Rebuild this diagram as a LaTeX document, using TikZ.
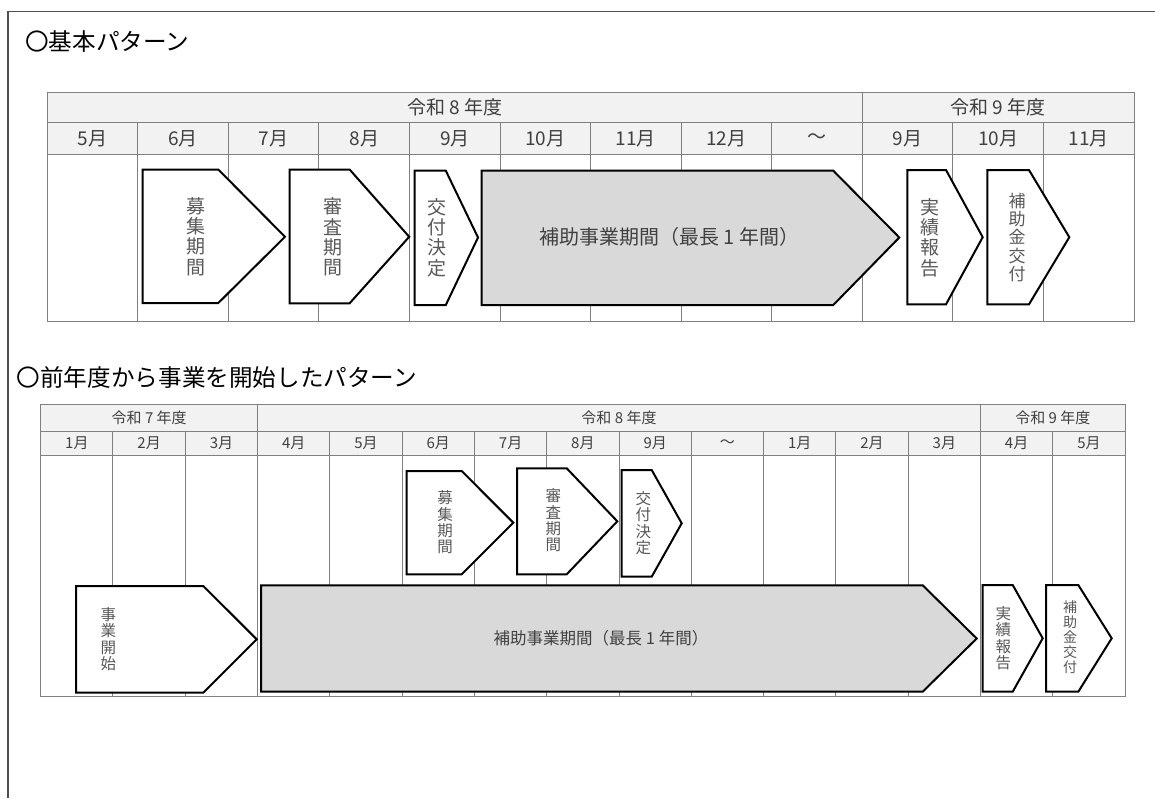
\documentclass[tikz,border=0pt]{standalone}
\usepackage{fontspec}
\setmainfont{Noto Sans CJK JP}
\usepackage{xcolor}
\definecolor{gridgray}{HTML}{808080}
\definecolor{headfill}{HTML}{F2F2F2}
\definecolor{bandfill}{HTML}{D9D9D9}
\definecolor{inkgray}{HTML}{404040}
\definecolor{lblgray}{HTML}{595959}
\definecolor{framegray}{HTML}{505050}
\usepackage{tikz}
\usetikzlibrary{positioning}
\tikzset{
  cell/.style={draw=gridgray, line width=1pt},
  phase/.style={draw=black, line width=2pt, line join=miter, fill=white},
  mainphase/.style={phase, fill=bandfill},
  title/.style={anchor=west, inner sep=0pt, font=\fontsize{23.6}{26}\selectfont},
  headA/.style={text=inkgray, inner sep=0pt, font=\fontsize{19}{22}\selectfont},
  headB/.style={text=inkgray, inner sep=0pt, font=\fontsize{15}{18}\selectfont},
  tateA/.style={text=lblgray, inner sep=0pt, align=center, font=\fontsize{19}{20.4}\selectfont},
  tateAs/.style={text=lblgray, inner sep=0pt, align=center, font=\fontsize{17}{18.3}\selectfont},
  tateB/.style={text=lblgray, inner sep=0pt, align=center, font=\fontsize{15.5}{16.3}\selectfont},
  tateBs/.style={text=lblgray, inner sep=0pt, align=center, font=\fontsize{14}{15}\selectfont},
}

\begin{document}
\begin{tikzpicture}[x=1pt, y=-1pt]

\useasboundingbox (0,0) rectangle (1155,798);
\draw[framegray, line width=1.5pt] (8,798) -- (8,11.7) -- (1155,11.7);

% basic pattern
\node[title] (titleA) at (25,41.7) {〇基本パターン};

\fill[headfill] (47.3,92.3) rectangle (1134,154);
\draw[cell] (47.3,92.3) rectangle (1134,321.7);
\draw[cell] (47.3,122.7) -- (1134,122.7);
\draw[cell] (47.3,154) -- (1134,154);
\draw[cell] (862.3,92.3) -- (862.3,122.7);
\foreach \i in {1,...,11}
  \draw[cell] ({47.3+\i*90.55},122.7) -- ({47.3+\i*90.55},321.7);

\node[headA] (yearA8) at (454.8,107.5) {令和 8 年度};
\node[headA] (yearA9) at (998.2,107.5) {令和 9 年度};
\foreach \m [count=\i from 0] in {5月,6月,7月,8月,9月,10月,11月,12月,～,9月,10月,11月}
  \node[headA] (monthA\i) at ({47.3+(\i+0.5)*90.55},138.4) {\m};

\draw[phase] (142.7,169.5) -- (218.3,169.5) -- (285,236.8) -- (218.3,303) -- (142.7,303) -- cycle;
\draw[phase] (289.7,169.5) -- (349.6,169.5) -- (409.2,236.8) -- (349.6,303.3) -- (289.7,303.3) -- cycle;
\draw[phase] (414.7,170.7) -- (445.8,170.7) -- (478,237.5) -- (445.8,305) -- (414.7,305) -- cycle;
\draw[mainphase] (481.7,170.7) -- (833.3,170.7) -- (899.3,237.5) -- (833.3,305) -- (481.7,305) -- cycle;
\draw[phase] (907.3,170) -- (946,170) -- (982.7,237.2) -- (946,304.3) -- (907.3,304.3) -- cycle;
\draw[phase] (987.3,170) -- (1029,170) -- (1069.3,237.2) -- (1029,304.3) -- (987.3,304.3) -- cycle;

\node[tateA] (bosyuA) at (196,236.5) {募\\集\\期\\間};
\node[tateA] (shinsaA) at (333,237) {審\\査\\期\\間};
\node[tateA] (kofuA) at (436.5,237.5) {交\\付\\決\\定};
\node[text=inkgray, inner sep=0pt, font=\fontsize{20}{22}\selectfont] (hojoA) at (669.5,236.8) {補助事業期間（最長 1 年間）};
\node[tateA] (jissekiA) at (930,237.5) {実\\績\\報\\告};
\node[tateAs] (hojokinA) at (1017,237.5) {補\\助\\金\\交\\付};

% started in the previous year
\node[title] (titleB) at (16.6,378) {〇前年度から事業を開始したパターン};

\fill[headfill] (40.7,404.3) rectangle (1125,455.7);
\draw[cell] (40.7,404.3) rectangle (1125,696);
\draw[cell] (40.7,431) -- (1125,431);
\draw[cell] (40.7,455.7) -- (1125,455.7);
\draw[cell] (257.6,404.3) -- (257.6,431);
\draw[cell] (980.5,404.3) -- (980.5,431);
\foreach \i in {1,...,14}
  \draw[cell] ({40.7+\i*72.29},431) -- ({40.7+\i*72.29},696);

\node[headB] (yearB7) at (149.2,417.6) {令和 7 年度};
\node[headB] (yearB8) at (619,417.6) {令和 8 年度};
\node[headB] (yearB9) at (1052.8,417.6) {令和 9 年度};
\foreach \m [count=\i from 0] in {1月,2月,3月,4月,5月,6月,7月,8月,9月,～,1月,2月,3月,4月,5月}
  \node[headB] (monthB\i) at ({40.7+(\i+0.5)*72.29},443.4) {\m};

\draw[phase] (76,586) -- (203.3,586) -- (256.7,639.3) -- (203.3,692.7) -- (76,692.7) -- cycle;
\draw[mainphase] (261,585.3) -- (922.7,585.3) -- (976.7,638.5) -- (922.7,691.7) -- (261,691.7) -- cycle;
\draw[phase] (406.7,471) -- (461.7,471) -- (513.3,522.7) -- (461.7,574.3) -- (406.7,574.3) -- cycle;
\draw[phase] (517,468.3) -- (566.7,468.3) -- (617.3,521.3) -- (566.7,574.3) -- (517,574.3) -- cycle;
\draw[phase] (621.7,470) -- (651.7,470) -- (681.7,523.3) -- (651.7,576.7) -- (621.7,576.7) -- cycle;
\draw[phase] (982.7,585) -- (1012.7,585) -- (1042.7,638.3) -- (1012.7,691.7) -- (982.7,691.7) -- cycle;
\draw[phase] (1046,585) -- (1078.3,585) -- (1111.7,638.3) -- (1078.3,691.7) -- (1046,691.7) -- cycle;

\node[tateB] (jigyoB) at (108.3,639) {事\\業\\開\\始};
\node[tateB] (bosyuB) at (445,522.5) {募\\集\\期\\間};
\node[tateB] (shinsaB) at (553.3,520.5) {審\\査\\期\\間};
\node[tateB] (kofuB) at (643.3,523) {交\\付\\決\\定};
\node[text=inkgray, inner sep=0pt, font=\fontsize{16.5}{18}\selectfont] (hojoB) at (601,638.3) {補助事業期間（最長 1 年間）};
\node[tateB] (jissekiB) at (1003.3,638.3) {実\\績\\報\\告};
\node[tateBs] (hojokinB) at (1070,637.5) {補\\助\\金\\交\\付};

\end{tikzpicture}
\end{document}
